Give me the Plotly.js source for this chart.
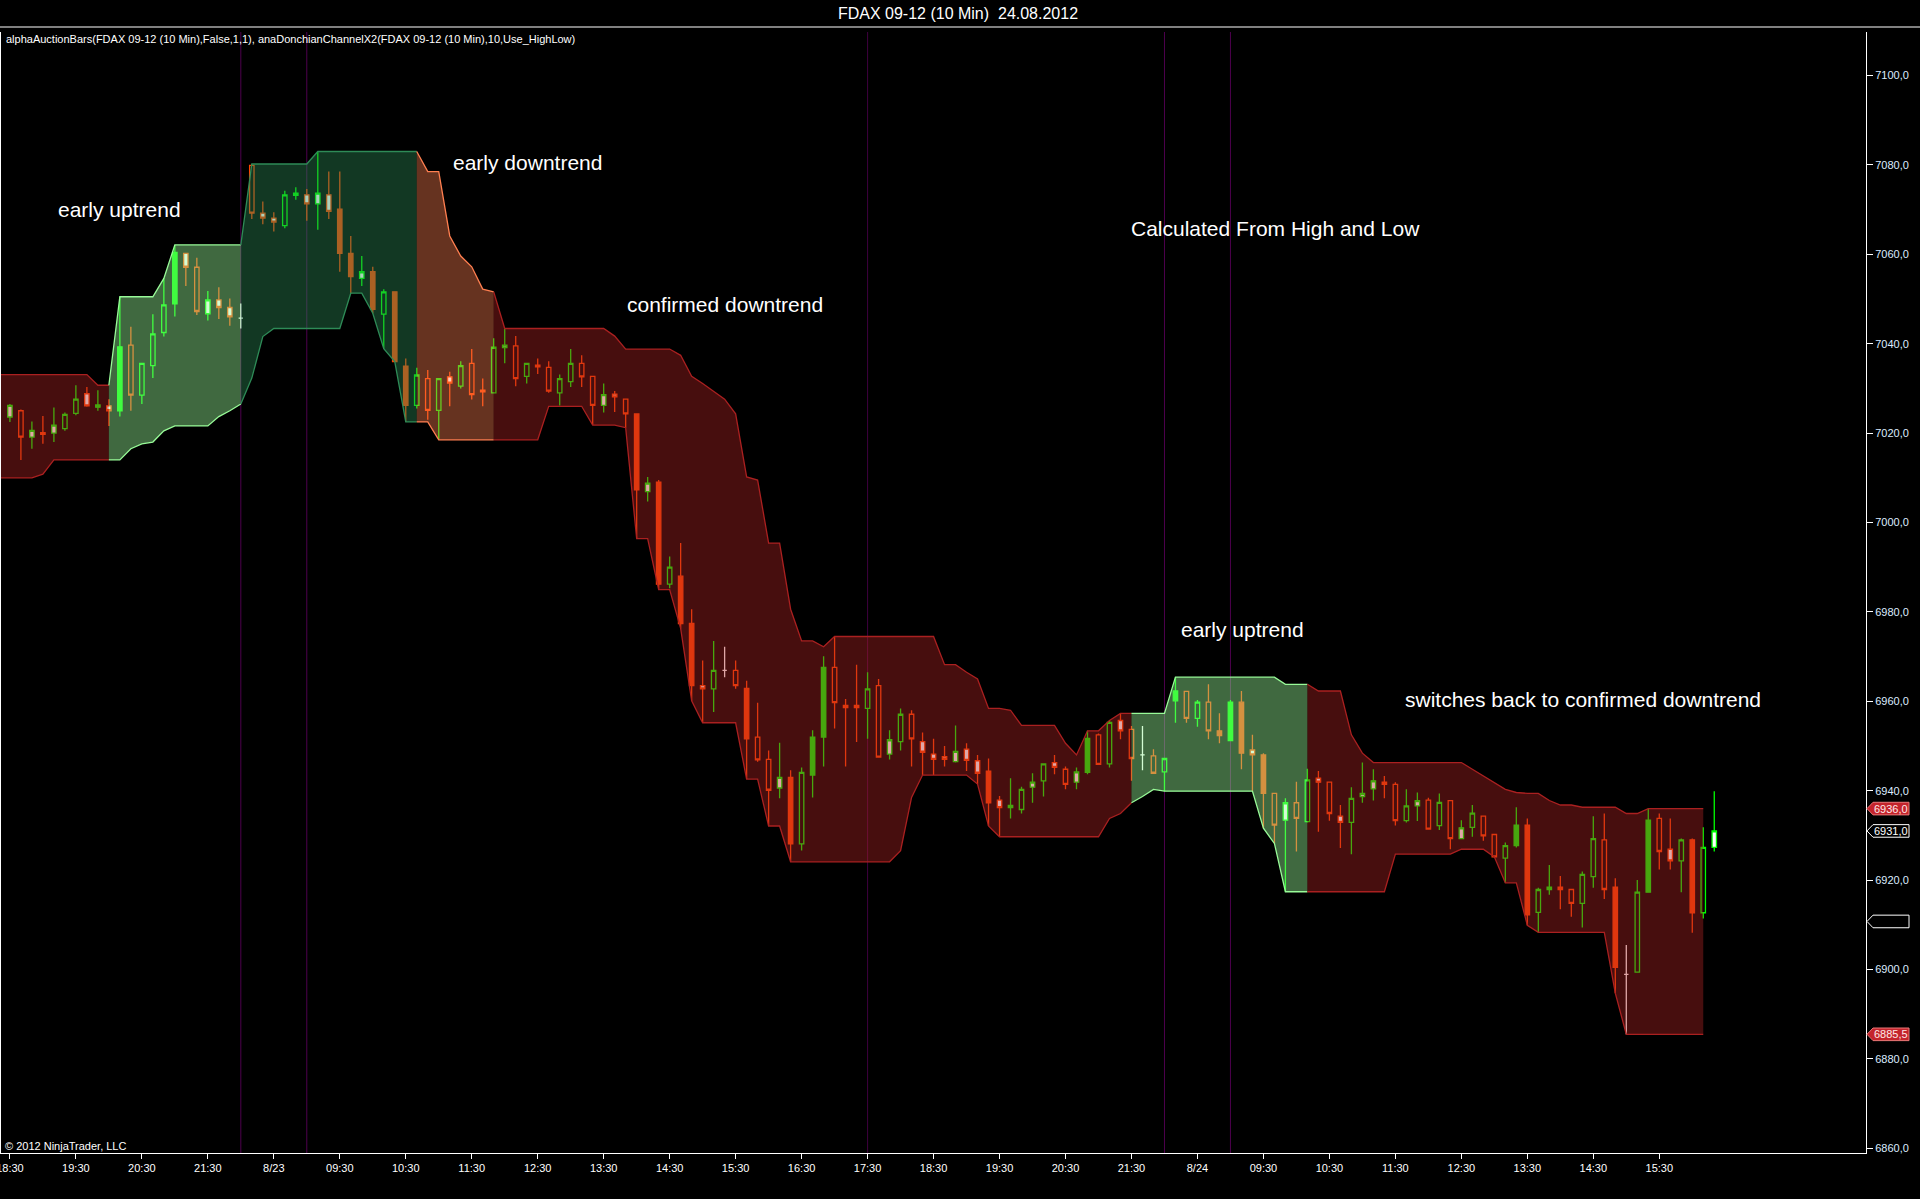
<!DOCTYPE html>
<html><head><meta charset="utf-8">
<script src="https://cdn.plot.ly/plotly-3.0.1.min.js"></script>
<style>html,body{margin:0;padding:0;background:#000;overflow:hidden}#chart{width:1920px;height:1199px}</style>
</head><body><div id="chart"></div>
<script>
// ---------- DATA ----------
// FDAX 09-12, 10-minute bars, 22.08.2012 18:30 ... 24.08.2012 16:20 (bar index 0..155)
const open = [
7023.6,7025.0,7019.1,7020.1,7020.0,7021.0,7024.4,7028.8,7025.8,7026.1,
7025.0,7039.7,7028.5,7035.1,7042.5,7048.9,7060.2,7057.1,7046.7,7049.8,
7048.1,7045.7,7079.9,7069.2,7068.1,7066.4,7073.2,7073.3,7071.3,7073.3,
7070.1,7060.2,7054.6,7056.1,7046.6,7051.6,7035.0,7026.2,7032.2,7025.1,
7032.6,7030.5,7035.6,7029.6,7029.0,7039.1,7039.5,7032.7,7035.2,7034.7,
7029.0,7031.5,7035.6,7032.7,7026.2,7028.7,7027.6,7024.3,7006.9,7009.0,
6986.2,6988.0,6977.4,6963.5,6962.8,6966.9,6966.9,6962.9,6952.0,6947.0,
6940.6,6943.0,6928.1,6943.5,6952.0,6967.6,6959.1,6959.1,6958.4,6963.5,
6948.2,6951.0,6957.1,6951.0,6948.2,6947.6,6946.5,6949.3,6946.7,6944.4,
6937.9,6936.2,6935.8,6940.8,6942.2,6946.3,6944.8,6941.9,6944.1,6952.5,
6946.0,6955.7,6953.7,6948.0,6947.8,6944.2,6960.1,6962.2,6956.2,6959.8,
6953.4,6951.2,6959.8,6949.1,6948.0,6939.4,6933.4,6937.3,6933.1,6942.8,
6941.9,6934.3,6932.9,6938.7,6940.4,6941.9,6941.4,6933.3,6936.6,6937.9,
6932.2,6937.8,6929.3,6931.8,6934.3,6930.2,6924.9,6927.7,6932.3,6912.8,
6917.9,6918.4,6917.9,6914.8,6920.8,6929.0,6918.4,6898.9,6899.4,6917.3,
6933.8,6926.9,6924.3,6929.0,6912.7,6927.3];
const high = [
7026.5,7025.3,7022.6,7023.8,7025.7,7024.6,7030.7,7030.3,7029.6,7027.6,
7050.5,7043.8,7035.6,7046.6,7054.6,7062.1,7060.2,7059.2,7051.8,7052.6,
7050.1,7049.0,7080.2,7071.8,7069.4,7074.2,7075.0,7074.6,7083.0,7078.5,
7078.5,7064.1,7059.6,7057.2,7052.2,7051.6,7036.7,7034.6,7034.1,7032.2,
7033.7,7036.1,7038.8,7032.2,7041.2,7043.4,7041.7,7035.6,7036.7,7036.1,
7033.1,7038.8,7037.4,7032.7,7031.1,7029.4,7027.6,7024.3,7010.2,7009.5,
6992.4,6995.4,6980.6,6969.1,6973.5,6972.2,6969.1,6964.6,6959.7,6949.0,
6950.7,6944.6,6945.2,6953.5,6970.1,6974.5,6960.5,6968.2,6966.5,6965.0,
6953.5,6958.4,6958.0,6953.0,6951.6,6950.0,6954.6,6950.6,6948.0,6947.2,
6938.8,6942.8,6940.9,6943.9,6946.0,6948.0,6945.4,6945.2,6953.4,6952.8,
6955.7,6957.3,6954.5,6954.5,6949.3,6947.2,6965.4,6962.2,6960.3,6963.8,
6957.3,6960.3,6962.3,6952.5,6948.4,6939.4,6938.3,6942.0,6944.9,6944.4,
6941.9,6936.8,6940.8,6946.3,6944.8,6943.3,6941.9,6940.3,6939.6,6938.4,
6939.4,6937.8,6933.4,6936.8,6934.3,6930.2,6928.4,6936.3,6933.8,6918.3,
6923.4,6920.9,6917.9,6921.9,6934.3,6934.9,6920.4,6905.5,6920.0,6936.0,
6934.9,6933.8,6929.3,6929.3,6931.8,6939.9];
const low = [
7022.5,7014.0,7016.5,7017.6,7018.0,7020.5,7024.0,7025.9,7025.0,7021.6,
7023.7,7025.0,7026.5,7032.3,7041.6,7046.1,7052.9,7046.4,7045.2,7045.5,
7044.0,7043.4,7067.9,7066.7,7065.1,7065.8,7072.2,7067.5,7065.5,7067.9,
7056.1,7051.3,7052.9,7046.8,7038.9,7036.0,7022.5,7025.5,7023.0,7018.5,
7026.0,7030.0,7027.5,7026.0,7029.0,7035.6,7030.5,7031.1,7033.2,7029.0,
7026.2,7030.3,7030.3,7021.8,7024.6,7024.7,7021.2,6996.4,7004.7,6985.0,
6985.3,6976.3,6960.1,6955.2,6957.6,6965.4,6962.8,6942.6,6946.5,6932.1,
6938.3,6924.1,6926.6,6938.5,6945.4,6953.9,6945.4,6950.9,6951.6,6947.5,
6947.0,6949.0,6945.4,6943.5,6943.5,6945.4,6946.3,6944.4,6941.5,6932.1,
6929.7,6933.8,6934.9,6937.3,6938.7,6943.7,6940.3,6940.3,6943.7,6945.9,
6945.2,6951.5,6942.2,6944.6,6943.9,6939.9,6955.2,6955.2,6954.3,6951.5,
6950.6,6951.2,6944.8,6939.9,6931.6,6928.2,6917.4,6926.4,6932.9,6930.8,
6933.3,6927.2,6925.8,6937.3,6937.8,6938.3,6932.2,6932.9,6933.2,6931.4,
6931.2,6926.9,6929.3,6929.7,6928.8,6925.2,6919.4,6927.3,6909.9,6908.3,
6916.7,6913.5,6911.8,6909.4,6918.3,6915.8,6894.7,6885.5,6899.4,6917.3,
6922.4,6922.4,6917.3,6908.2,6911.4,6926.4];
const close = [
7026.2,7019.1,7020.6,7019.7,7021.8,7024.2,7027.6,7026.1,7026.3,7025.0,
7039.3,7028.5,7035.6,7042.2,7048.7,7060.4,7057.1,7047.2,7049.8,7048.1,
7046.0,7045.7,7069.2,7068.1,7067.2,7073.3,7073.7,7071.3,7073.7,7069.6,
7060.2,7055.0,7056.1,7047.7,7051.6,7036.0,7026.2,7033.0,7025.1,7032.2,
7031.2,7035.1,7028.6,7029.2,7039.2,7039.7,7032.2,7035.6,7034.8,7029.4,
7032.2,7035.6,7032.6,7026.2,7028.6,7028.1,7024.3,7007.3,7008.8,6986.2,
6990.0,6977.4,6963.5,6962.8,6966.9,6966.9,6963.5,6951.6,6946.9,6940.1,
6943.0,6928.1,6944.1,6952.0,6967.6,6959.7,6958.6,6958.6,6962.8,6947.5,
6951.4,6957.1,6951.6,6948.6,6947.0,6947.0,6948.8,6946.8,6943.9,6937.3,
6936.2,6936.7,6940.3,6941.9,6946.0,6945.2,6941.4,6944.2,6951.7,6945.9,
6955.3,6953.4,6947.2,6948.0,6943.9,6947.2,6962.3,6956.2,6959.8,6953.4,
6952.3,6959.8,6948.4,6948.0,6939.4,6932.3,6937.3,6933.8,6942.4,6941.9,
6934.9,6932.9,6938.3,6939.4,6942.2,6941.4,6933.3,6936.6,6937.8,6931.4,
6937.4,6929.3,6931.7,6935.0,6929.9,6925.2,6927.7,6932.3,6912.2,6917.9,
6918.4,6917.9,6914.8,6921.3,6929.3,6917.9,6900.5,6898.9,6917.3,6933.4,
6926.4,6924.3,6929.0,6912.7,6927.3,6931.0];
// bar body type drawn by alphaAuctionBars: S solid, H hollow, W white body, D doji
const barType = ("WHWWWHHWWW"+"SHHHHSWHWW"+"WDHWWHWWWW"+"SSWSHSSHHH"+"WHHWHWHHWH"+
                 "HHHHWWHSWS"+"HSSWHDHSHH"+"WSHSSHWWHH"+"WHHWWWWWWS"+"WWHWHWHWSH"+
                 "HWHDHHSHHH"+"SSSWSHWHHW"+"HWHWWWHHWH"+"HHWHHHHSSH"+"WWHHHHSDHS"+"HWHSHW").split("");
// anaDonchianChannelX2 (10, High/Low) upper and lower band, bars -1..154
// (bar -1 is the bar just left of the visible window; the band is seen entering from the left edge)
const channelFirstBar = -1;
const channelUpper = [7033.1,
7033.1,7033.1,7033.1,7033.1,7033.1,7033.1,7033.1,7033.1,7030.7,7030.7,
7050.5,7050.5,7050.5,7050.5,7054.6,7062.1,7062.1,7062.1,7062.1,7062.1,
7062.1,7062.1,7080.2,7080.2,7080.2,7080.2,7080.2,7080.2,7083.0,7083.0,
7083.0,7083.0,7083.0,7083.0,7083.0,7083.0,7083.0,7083.0,7078.5,7078.5,
7064.1,7059.6,7057.2,7052.2,7051.6,7043.4,7043.4,7043.4,7043.4,7043.4,
7043.4,7043.4,7043.4,7043.4,7043.4,7041.7,7038.8,7038.8,7038.8,7038.8,
7038.8,7037.4,7032.7,7031.1,7029.4,7027.6,7024.3,7010.2,7009.5,6995.4,
6995.4,6980.6,6973.5,6973.5,6972.2,6974.5,6974.5,6974.5,6974.5,6974.5,
6974.5,6974.5,6974.5,6974.5,6974.5,6968.2,6968.2,6966.5,6965.0,6958.4,
6958.4,6958.0,6954.6,6954.6,6954.6,6954.6,6950.6,6948.0,6953.4,6953.4,
6955.7,6957.3,6957.3,6957.3,6957.3,6957.3,6965.4,6965.4,6965.4,6965.4,
6965.4,6965.4,6965.4,6965.4,6965.4,6965.4,6963.8,6963.8,6963.8,6962.3,
6962.3,6962.3,6952.5,6948.4,6946.3,6946.3,6946.3,6946.3,6946.3,6946.3,
6946.3,6946.3,6946.3,6944.8,6943.3,6941.9,6940.3,6939.6,6939.4,6939.4,
6937.8,6936.8,6936.8,6936.3,6936.3,6936.3,6936.3,6934.9,6934.9,6936.0,
6936.0,6936.0,6936.0,6936.0,6936.0];
const channelLower = [7010.0,
7010.0,7010.0,7010.0,7010.8,7014.0,7014.0,7014.0,7014.0,7014.0,7014.0,
7014.0,7016.5,7017.6,7018.0,7020.5,7021.6,7021.6,7021.6,7021.6,7023.7,
7025.0,7026.5,7032.3,7041.6,7043.4,7043.4,7043.4,7043.4,7043.4,7043.4,
7043.4,7051.3,7051.3,7046.8,7038.9,7036.0,7022.5,7022.5,7022.5,7018.5,
7018.5,7018.5,7018.5,7018.5,7018.5,7018.5,7018.5,7018.5,7018.5,7026.0,
7026.0,7026.0,7026.0,7021.8,7021.8,7021.8,7021.2,6996.4,6996.4,6985.0,
6985.0,6976.3,6960.1,6955.2,6955.2,6955.2,6955.2,6942.6,6942.6,6932.1,
6932.1,6924.1,6924.1,6924.1,6924.1,6924.1,6924.1,6924.1,6924.1,6924.1,
6924.1,6926.6,6938.5,6943.5,6943.5,6943.5,6943.5,6943.5,6941.5,6932.1,
6929.7,6929.7,6929.7,6929.7,6929.7,6929.7,6929.7,6929.7,6929.7,6929.7,
6933.8,6934.9,6937.3,6938.7,6940.3,6939.9,6939.9,6939.9,6939.9,6939.9,
6939.9,6939.9,6939.9,6939.9,6931.6,6928.2,6917.4,6917.4,6917.4,6917.4,
6917.4,6917.4,6917.4,6917.4,6917.4,6917.4,6925.8,6925.8,6925.8,6925.8,
6925.8,6925.8,6926.9,6926.9,6926.9,6925.2,6919.4,6919.4,6909.9,6908.3,
6908.3,6908.3,6908.3,6908.3,6908.3,6908.3,6894.7,6885.5,6885.5,6885.5,
6885.5,6885.5,6885.5,6885.5,6885.5];
// trend regime segments (bar index from / to)
const trendFrom  = [-1, 9, 21, 37, 44, 102, 118];
const trendTo    = [9, 21, 37, 44, 102, 118, 154];
const trendState = ["down","earlyUp","up","earlyDown","down","earlyUp","down"];
// time axis labels (bar index -> label)
const timeTickIdx  = [0,6,12,18,24,30,36,42,48,54,60,66,72,78,84,90,96,102,108,114,120,126,132,138,144,150];
const timeTickText = ["18:30","19:30","20:30","21:30","8/23","09:30","10:30","11:30","12:30","13:30","14:30","15:30",
                      "16:30","17:30","18:30","19:30","20:30","21:30","8/24","09:30","10:30","11:30","12:30","13:30","14:30","15:30"];
const sessionBreakIdx = [21, 27, 105, 111];
const xetraCloseIdx = [78];
const priceTicks = [6860,6880,6900,6920,6940,6960,6980,7000,7020,7040,7060,7080,7100];
// chart notes
const noteText = ["early uptrend","early downtrend","confirmed downtrend","Calculated From High and Low","early uptrend","switches back to confirmed downtrend"];

// ---------- LAYOUT GEOMETRY ----------
const W = 1920, H = 1199;
const M = {l:1, r:54, t:32, b:46};
const plotW = W - M.l - M.r, plotH = H - M.t - M.b;
const yRange = [6858.95, 7109.73];
const xRange = [-0.81, 168.8];
const xp = px => (px - M.l) / plotW;
const yp = py => (H - M.b - py) / plotH;
const ypPrice = p => (p - yRange[0]) / (yRange[1] - yRange[0]);
const notePos = [[120,209],[527,162],[725,305],[1275,228],[1242,630],[1583,699]];

const barIndex = open.map((_, i) => i);
const fmt = v => v.toFixed(1).replace(".", ",");

const styles = {
  down:      {line:"rgb(170,32,32)",  fill:"rgba(178,34,34,0.40)"},
  earlyUp:   {line:"rgb(152,251,152)",fill:"rgba(152,251,152,0.42)"},
  up:        {line:"rgb(46,139,87)",  fill:"rgba(46,139,87,0.40)"},
  earlyDown: {line:"rgb(255,127,80)", fill:"rgba(255,127,80,0.40)"}
};

const traces = [];
trendFrom.forEach((a, k) => {
  const b = trendTo[k], st = styles[trendState[k]];
  const xs = [], up = [], lo = [];
  for (let i = a; i <= b; i++) {
    xs.push(i); up.push(channelUpper[i - channelFirstBar]); lo.push(channelLower[i - channelFirstBar]);
  }
  traces.push({type:"scatter", mode:"lines", x:xs, y:lo, line:{color:st.line, width:1.3}, hoverinfo:"skip", showlegend:false});
  traces.push({type:"scatter", mode:"lines", x:xs, y:up, fill:"tonexty", fillcolor:st.fill,
               line:{color:st.line, width:1.3}, hoverinfo:"skip", showlegend:false});
});

const GREEN = "#00ff00", RED = "#ff4500";
function candles(code, incFill, decFill, incLine, decLine) {
  const pick = arr => arr.map((v, i) => barType[i] === code ? v : null);
  return {type:"candlestick", x:barIndex, open:pick(open), high:pick(high), low:pick(low), close:pick(close),
          increasing:{line:{color:incLine, width:1.3}, fillcolor:incFill},
          decreasing:{line:{color:decLine, width:1.3}, fillcolor:decFill},
          whiskerwidth:0, hoverinfo:"skip", showlegend:false};
}
traces.push(candles("S", GREEN, RED, GREEN, RED));
traces.push(candles("H", "rgba(0,0,0,0)", "rgba(0,0,0,0)", GREEN, RED));
traces.push(candles("W", "#ffffff", "#ffffff", GREEN, RED));
traces.push(candles("D", "#ffffff", "#ffffff", "#ffffff", "#ffffff"));

// ---------- shapes ----------
const shapes = [];
sessionBreakIdx.forEach(i => shapes.push({type:"line", xref:"x", yref:"paper", x0:i, x1:i, y0:0, y1:1,
  line:{color:"rgb(78,0,78)", width:1}, layer:"below"}));
xetraCloseIdx.forEach(i => shapes.push({type:"line", xref:"x", yref:"paper", x0:i, x1:i, y0:0, y1:1,
  line:{color:"rgb(62,0,62)", width:1}, layer:"below"}));
shapes.push({type:"line", xref:"paper", yref:"paper", x0:xp(0), x1:xp(W), y0:yp(27), y1:yp(27), line:{color:"#ffffff", width:1}});

// price markers on the right axis
const last = channelUpper.length - 1;
const markers = [
  {v:channelUpper[last], fill:"rgb(196,36,44)", border:"rgb(235,120,120)", text:true, tc:"#ffe8e8"},
  {v:close[close.length-1], fill:"#000000", border:"#ffffff", text:true, tc:"#ffffff"},
  {v:(channelUpper[last] + channelLower[last]) / 2, fill:"#000000", border:"#ffffff", text:false, tc:"#ffffff"},
  {v:channelLower[last], fill:"rgb(196,36,44)", border:"rgb(235,120,120)", text:true, tc:"#ffe8e8"}
];
const annotations = [];
markers.forEach(m => {
  const yc = ypPrice(m.v), hh = 6.3 / plotH;
  const tip = xp(1867), l = xp(1873), r = xp(1909);
  shapes.push({type:"path", xref:"paper", yref:"paper",
    path:`M ${tip} ${yc} L ${l} ${yc+hh} L ${r} ${yc+hh} L ${r} ${yc-hh} L ${l} ${yc-hh} Z`,
    fillcolor:m.fill, line:{color:m.border, width:1}});
  if (m.text) annotations.push({xref:"paper", yref:"paper", x:xp(1891), y:yc, text:fmt(m.v), showarrow:false,
    xanchor:"center", yanchor:"middle", font:{size:11, color:m.tc}});
});

noteText.forEach((t, k) => annotations.push({xref:"paper", yref:"paper", x:xp(notePos[k][0]), y:yp(notePos[k][1]),
  text:t, showarrow:false, xanchor:"center", yanchor:"middle", font:{size:21, color:"#ffffff"}}));
annotations.push({xref:"paper", yref:"paper", x:xp(4), y:yp(39), xanchor:"left", yanchor:"middle", showarrow:false,
  text:"alphaAuctionBars(FDAX 09-12 (10 Min),False,1,1), anaDonchianChannelX2(FDAX 09-12 (10 Min),10,Use_HighLow)",
  font:{size:11, color:"#ffffff"}});
annotations.push({xref:"paper", yref:"paper", x:xp(3), y:yp(1146), xanchor:"left", yanchor:"middle", showarrow:false,
  text:"© 2012 NinjaTrader, LLC", font:{size:11, color:"#ffffff"}});

const layout = {
  width:W, height:H, margin:{l:M.l, r:M.r, t:M.t, b:M.b, pad:0},
  paper_bgcolor:"#000000", plot_bgcolor:"#000000",
  font:{family:"Liberation Sans, Arial, sans-serif", color:"#ffffff", size:11},
  showlegend:false, hovermode:false, dragmode:false,
  boxgap:0.6, boxgroupgap:0,
  title:{text:"FDAX 09-12 (10 Min)\u00a0 24.08.2012", x:958/W, xanchor:"center", y:1-13.5/H, yanchor:"middle",
         font:{size:16, color:"#ffffff"}},
  xaxis:{range:xRange, tickmode:"array", tickvals:timeTickIdx, ticktext:timeTickText,
         ticks:"outside", ticklen:5, tickwidth:1, tickcolor:"#ffffff", ticklabeloverflow:"allow",
         showline:true, linecolor:"#ffffff", linewidth:1, showgrid:false, zeroline:false,
         tickfont:{size:11, color:"#ffffff"}, rangeslider:{visible:false}, fixedrange:true},
  yaxis:{side:"right", range:yRange, tickmode:"array", tickvals:priceTicks, ticktext:priceTicks.map(fmt),
         ticks:"outside", ticklen:6, tickwidth:1, tickcolor:"#ffffff",
         showline:true, mirror:true, linecolor:"#ffffff", linewidth:1, showgrid:false, zeroline:false,
         tickfont:{size:11, color:"#dcecff"}, fixedrange:true},
  shapes:shapes, annotations:annotations
};
Plotly.newPlot("chart", traces, layout, {displayModeBar:false, staticPlot:true});
</script></body></html>
